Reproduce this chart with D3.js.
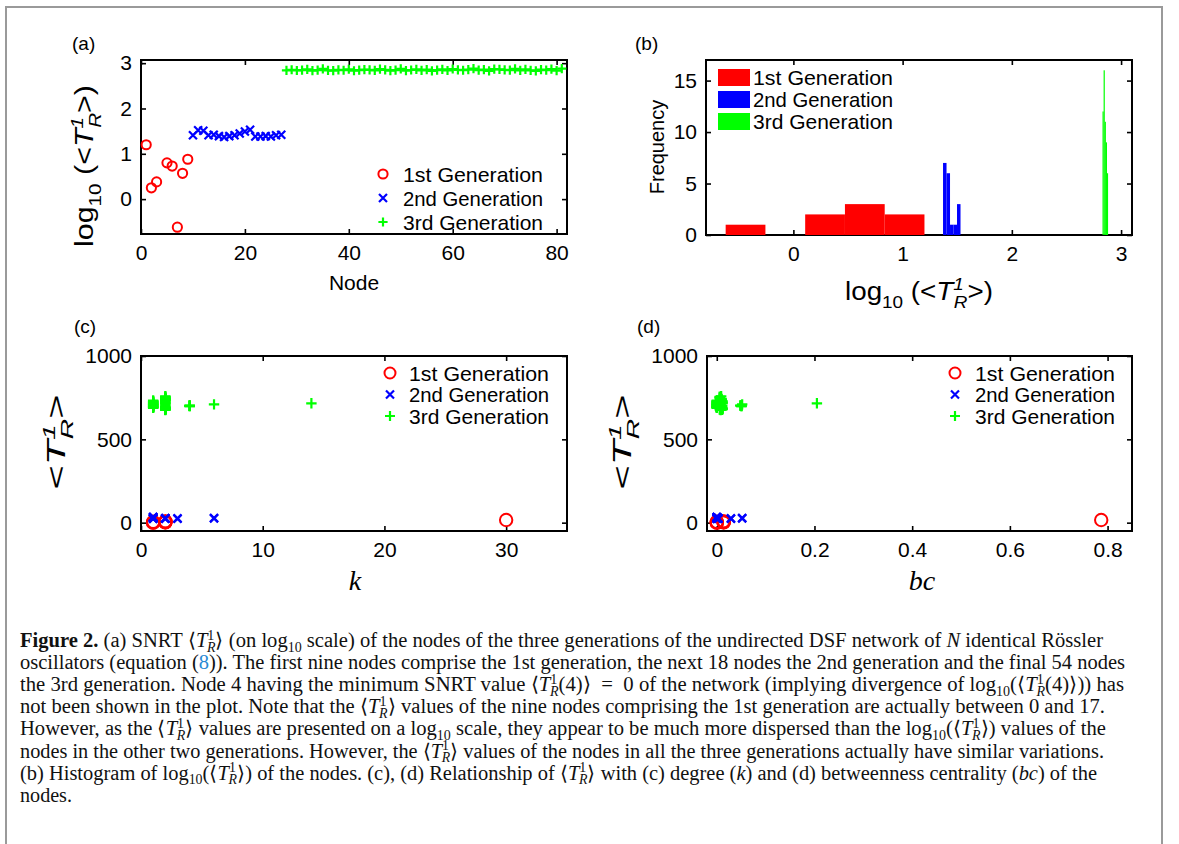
<!DOCTYPE html>
<html>
<head>
<meta charset="utf-8">
<script src="https://cdn.jsdelivr.net/npm/d3@7"></script>
<style>
body { margin: 0; background: #fff; }
svg { display: block; font-family: "Liberation Sans", Arial, sans-serif; }
text { white-space: pre; }
</style>
</head>
<body>
<svg id="fig" width="1179" height="844"></svg>
<script>
// log10 of mean return time per node; node 4 has value 0 (log undefined)
const gen1Log = [1.2, 0.25, 0.38, null, 0.8, 0.73, -0.62, 0.57, 0.88];
const gen2Log = [1.41, 1.52, 1.51, 1.41, 1.42, 1.39, 1.37, 1.39, 1.41,
                 1.45, 1.49, 1.53, 1.38, 1.38, 1.39, 1.38, 1.41, 1.42];
const gen3Log = [2.842, 2.855, 2.838, 2.846, 2.863, 2.835, 2.848, 2.872, 2.841,
                 2.836, 2.851, 2.844, 2.866, 2.833, 2.847, 2.858, 2.853, 2.843,
                 2.869, 2.852, 2.837, 2.845, 2.876, 2.834, 2.849, 2.861, 2.842,
                 2.856, 2.831, 2.846, 2.864, 2.838, 2.871, 2.853, 2.844, 2.856,
                 2.880, 2.848, 2.857, 2.832, 2.867, 2.865, 2.854, 2.845, 2.874,
                 2.839, 2.862, 2.843, 2.830, 2.859, 2.847, 2.868, 2.835, 2.878];

// degree k
const gen1Deg = [30, 2, 2, 1, 2, 1, 1, 2, 2];
const gen2Deg = [6, 1, 1, 3, 2, 2, 1, 1, 2, 6, 1, 1, 3, 2, 2, 1, 1, 2];
const gen3Deg = [1, 14, 2, 4, 1, 2, 1, 2, 1,
                 2, 6, 1, 2, 2, 4, 1, 1, 2,
                 2, 1, 2, 4, 2, 2, 1, 1, 2,
                 1, 2, 4, 2, 1, 2, 2, 1, 2,
                 2, 1, 2, 2, 2, 1, 1, 4, 2,
                 1, 2, 1, 2, 1, 2, 2, 2, 2];

// betweenness centrality bc
const gen1Bc = [0.787, 0.014, 0.014, 0, 0.014, 0, 0, 0.014, 0.014];
const gen2Bc = [0.052, 0, 0, 0.029, 0.003, 0.003, 0, 0, 0.003,
                0.052, 0, 0, 0.029, 0.003, 0.003, 0, 0, 0.003];
const gen3Bc = [0, 0.205, 0.008, 0.05, 0, 0.01, 0, 0.006, 0,
                0.012, 0.052, 0, 0.009, 0.007, 0.048, 0, 0, 0.011,
                0.008, 0, 0.01, 0.051, 0.006, 0.012, 0, 0, 0.009,
                0, 0.011, 0.049, 0.007, 0, 0.01, 0.008, 0, 0.012,
                0.009, 0, 0.011, 0.006, 0.01, 0, 0, 0.05, 0.007,
                0, 0.012, 0, 0.008, 0, 0.011, 0.009, 0.01, 0.006];

const genNames = ["1st Generation", "2nd Generation", "3rd Generation"];
const genColors = ["#ff0000", "#0000ff", "#00ff00"];

const nodeTicks = [0, 20, 40, 60, 80];
const logTicks = [0, 1, 2, 3];
const freqTicks = [0, 5, 10, 15];
const kTicks = [0, 10, 20, 30];
const tTicks = [0, 500, 1000];
const bcTicks = [0, 0.2, 0.4, 0.6, 0.8];

const svg = d3.select("#fig");
const SANS = "Liberation Sans, Arial, sans-serif";
const SERIF = "Liberation Serif, Times New Roman, serif";

// flatten into node records
const nodes = [];
[gen1Log, gen2Log, gen3Log].forEach((arr, g) => {
  const degs = [gen1Deg, gen2Deg, gen3Deg][g];
  const bcs = [gen1Bc, gen2Bc, gen3Bc][g];
  arr.forEach((v, i) => {
    nodes.push({
      node: nodes.length + 1, gen: g, log: v,
      t: v === null ? 0 : Math.pow(10, v),
      k: degs[i], bc: bcs[i]
    });
  });
});

// outer figure frame
svg.append("path")
  .attr("d", "M6,850V7H1162V850")
  .attr("fill", "none").attr("stroke", "#9a9a9a").attr("stroke-width", 2);

function rich(parent, segs, size, sub = 0.32, sup = 0.42) {
  let shift = 0;
  segs.forEach(([txt, kind]) => {
    const k = new Set((kind || "").split(" "));
    const small = k.has("sub") || k.has("sup");
    const target = k.has("sub") ? size * sub : k.has("sup") ? -size * sup : 0;
    const ts = parent.append("tspan").text(txt).attr("font-size", small ? size * 0.68 : size);
    if (target !== shift) ts.attr("dy", target - shift);
    if (k.has("back")) ts.attr("dx", -size * 0.36);
    if (k.has("it")) ts.attr("font-style", "italic");
    if (k.has("bold")) ts.attr("font-weight", "bold");
    if (k.has("link")) ts.attr("fill", "#2a8ad4");
    shift = target;
  });
}

function frame(p, xTicks, yTicks) {
  const x = d3.scaleLinear().domain(p.xDom).range([p.l, p.r]);
  const y = d3.scaleLinear().domain(p.yDom).range([p.b, p.t]);
  const g = svg.append("g");
  const styleAxis = a => {
    a.select(".domain").remove();
    a.selectAll("line").attr("stroke", "#000").attr("stroke-width", 1.6);
    a.selectAll("text").attr("font-size", 21).attr("font-family", SANS).attr("fill", "#000");
  };
  g.append("g").attr("transform", `translate(0,${p.b})`)
    .call(d3.axisBottom(x).tickValues(xTicks).tickFormat(d => d).tickSizeInner(-5).tickSizeOuter(0).tickPadding(11))
    .call(styleAxis);
  g.append("g").attr("transform", `translate(0,${p.t})`)
    .call(d3.axisTop(x).tickValues(xTicks).tickFormat("").tickSizeInner(-5).tickSizeOuter(0))
    .call(styleAxis);
  g.append("g").attr("transform", `translate(${p.l},0)`)
    .call(d3.axisLeft(y).tickValues(yTicks).tickFormat(d => d).tickSizeInner(-5).tickSizeOuter(0).tickPadding(9))
    .call(styleAxis);
  g.append("g").attr("transform", `translate(${p.r},0)`)
    .call(d3.axisRight(y).tickValues(yTicks).tickFormat("").tickSizeInner(-5).tickSizeOuter(0))
    .call(styleAxis);
  g.append("rect")
    .attr("x", p.l).attr("y", p.t).attr("width", p.r - p.l).attr("height", p.b - p.t)
    .attr("fill", "none").attr("stroke", "#000").attr("stroke-width", 2);
  return { g, x, y };
}

function markerPath(gen, s) {
  if (gen === 0) return `M${s},0A${s},${s} 0 1,1 ${-s},0A${s},${s} 0 1,1 ${s},0Z`;
  if (gen === 1) return `M${-s},${-s}L${s},${s}M${-s},${s}L${s},${-s}`;
  return `M${-s},0H${s}M0,${-s}V${s}`;
}

function scatter(g, data, x, y, fx, fy, sizes) {
  g.append("g").selectAll("path")
    .data(data)
    .join("path")
    .attr("transform", d => `translate(${x(fx(d))},${y(fy(d))})`)
    .attr("d", d => markerPath(d.gen, sizes[d.gen]))
    .attr("fill", "none")
    .attr("stroke", d => genColors[d.gen])
    .attr("stroke-width", d => d.gen === 0 ? 2 : 2.2);
}

function legend(lx, tx, y0, dy, sizes) {
  genNames.forEach((name, i) => {
    svg.append("path")
      .attr("transform", `translate(${lx},${y0 + i * dy})`)
      .attr("d", markerPath(i, sizes[i]))
      .attr("fill", "none").attr("stroke", genColors[i])
      .attr("stroke-width", i === 0 ? 2 : 2.2);
    svg.append("text").attr("x", tx).attr("y", y0 + i * dy).attr("dy", "0.36em")
      .attr("font-size", 21).attr("font-family", SANS).text(name)
      .attr("textLength", 140).attr("lengthAdjust", "spacingAndGlyphs");
  });
}

function panelLabel(x, y, s) {
  svg.append("text").attr("x", x).attr("y", y).attr("font-size", 19)
    .attr("font-family", SANS).text(s);
}

const logLabel = [["log", ""], ["10", "sub"], [" (<", ""], ["T", "it"], ["1", "sup it"], ["R", "sub it back"], [">)", ""]];
const tLabel = [["<", ""], ["T", "it"], ["1", "sup it"], ["R", "sub it back"], [">", ""]];

function axisTitle(x, y, rot, segs, size, len, family) {
  const t = svg.append("text")
    .attr("transform", `translate(${x},${y}) rotate(${rot})`)
    .attr("text-anchor", "middle")
    .attr("font-family", family || SANS);
  rich(t, segs, size);
  if (len) t.attr("textLength", len).attr("lengthAdjust", "spacingAndGlyphs");
  return t;
}

// ---------- (a)
const A = frame({ l: 141, r: 567, t: 60, b: 234, xDom: [0, 82], yDom: [-0.77, 3.07] }, nodeTicks, logTicks);
scatter(A.g, nodes.filter(d => d.log !== null), A.x, A.y, d => d.node, d => d.log, [4.6, 4, 4.6]);
legend(383, 403, 174, 24, [4.6, 4, 4.6]);
panelLabel(72, 50, "(a)");
axisTitle(93, 166, -90, logLabel, 25, 162);
svg.append("text").attr("x", 354).attr("y", 290).attr("text-anchor", "middle")
  .attr("font-size", 21).attr("font-family", SANS).text("Node");

// ---------- (b)
const B = frame({ l: 706, r: 1132, t: 60, b: 235, xDom: [-0.8, 3.1], yDom: [0, 17] }, logTicks, freqTicks);
[gen1Log, gen2Log, gen3Log].forEach((arr, gi) => {
  const vals = arr.filter(v => v !== null);
  const [lo, hi] = d3.extent(vals);
  const th = d3.range(1, 5).map(i => lo + i * (hi - lo) / 5);
  const bins = d3.bin().domain([lo, hi]).thresholds(th)(vals).filter(b => b.length > 0);
  B.g.append("g").selectAll("rect")
    .data(bins)
    .join("rect")
    .attr("x", b => B.x(b.x0))
    .attr("width", b => Math.max(1.2, B.x(b.x1) - B.x(b.x0)))
    .attr("y", b => B.y(b.length))
    .attr("height", b => B.y(0) - B.y(b.length))
    .attr("fill", genColors[gi]);
});
genNames.forEach((name, i) => {
  svg.append("rect").attr("x", 718).attr("y", 69 + i * 22).attr("width", 32).attr("height", 17)
    .attr("fill", genColors[i]);
  svg.append("text").attr("x", 753).attr("y", 77.5 + i * 22).attr("dy", "0.36em")
    .attr("font-size", 21).attr("font-family", SANS).text(name)
    .attr("textLength", 140).attr("lengthAdjust", "spacingAndGlyphs");
});
panelLabel(635, 50, "(b)");
axisTitle(664, 147, -90, [["Frequency", ""]], 20);
axisTitle(919, 300, 0, logLabel, 25, 148);

// ---------- (c)
const C = frame({ l: 141, r: 567, t: 356, b: 531, xDom: [0, 35], yDom: [-50, 1000] }, kTicks, tTicks);
scatter(C.g, nodes, C.x, C.y, d => d.k, d => d.t, [6.2, 4, 5.2]);
legend(390, 409, 373, 21.5, [5.5, 4, 5]);
panelLabel(74, 333, "(c)");
axisTitle(65, 442, -90, tLabel, 25, 95);
svg.append("text").attr("x", 355).attr("y", 590).attr("text-anchor", "middle")
  .attr("font-size", 28).attr("font-style", "italic").attr("font-family", SERIF).text("k");

// ---------- (d)
const D = frame({ l: 707, r: 1132, t: 356, b: 531, xDom: [-0.02, 0.85], yDom: [-50, 1000] }, bcTicks, tTicks);
scatter(D.g, nodes, D.x, D.y, d => d.bc, d => d.t, [6.2, 4, 5.2]);
legend(955, 975, 373, 21.5, [5.5, 4, 5]);
panelLabel(637, 333, "(d)");
axisTitle(631, 442, -90, tLabel, 25, 95);
svg.append("text").attr("x", 922).attr("y", 590).attr("text-anchor", "middle")
  .attr("font-size", 28).attr("font-style", "italic").attr("font-family", SERIF).text("bc");

// ---------- caption
const TR = (extra = "") => [["⟨", ""], ["T", "it"], ["1", "sup"], ["R", "sub it back"], [extra + "⟩", ""]];
const LOG = [["log", ""], ["10", "sub"]];
const captionLines = [
  [["Figure 2.", "bold"], [" (a) SNRT ", ""], ...TR(), [" (on ", ""], ...LOG, [" scale) of the nodes of the three generations of the undirected DSF network of ", ""], ["N", "it"], [" identical Rössler", ""]],
  [["oscillators (equation (", ""], ["8", "link"], [")). The first nine nodes comprise the 1st generation, the next 18 nodes the 2nd generation and the final 54 nodes", ""]],
  [["the 3rd generation. Node 4 having the minimum SNRT value ", ""], ...TR("(4)"), ["  =  0 of the network (implying divergence of ", ""], ...LOG, ["(", ""], ...TR("(4)"), [")) has", ""]],
  [["not been shown in the plot. Note that the ", ""], ...TR(), [" values of the nine nodes comprising the 1st generation are actually between 0 and 17.", ""]],
  [["However, as the ", ""], ...TR(), [" values are presented on a ", ""], ...LOG, [" scale, they appear to be much more dispersed than the ", ""], ...LOG, ["(", ""], ...TR(), [") values of the", ""]],
  [["nodes in the other two generations. However, the ", ""], ...TR(), [" values of the nodes in all the three generations actually have similar variations.", ""]],
  [["(b) Histogram of ", ""], ...LOG, ["(", ""], ...TR(), [") of the nodes. (c), (d) Relationship of ", ""], ...TR(), [" with (c) degree (", ""], ["k", "it"], [") and (d) betweenness centrality (", ""], ["bc", "it"], [") of the", ""]],
  [["nodes.", ""]]
];
const captionEnds = [1103, 1125, 1124, 1105, 1106, 1104, 1097, 72];

captionLines.forEach((segs, i) => {
  const t = svg.append("text").attr("x", 20).attr("y", 647 + i * 22.1)
    .attr("font-family", SERIF).attr("fill", "#111");
  rich(t, segs, 20, 0.24, 0.36);
  t.attr("textLength", captionEnds[i] - 20).attr("lengthAdjust", "spacingAndGlyphs");
});
</script>
</body>
</html>
